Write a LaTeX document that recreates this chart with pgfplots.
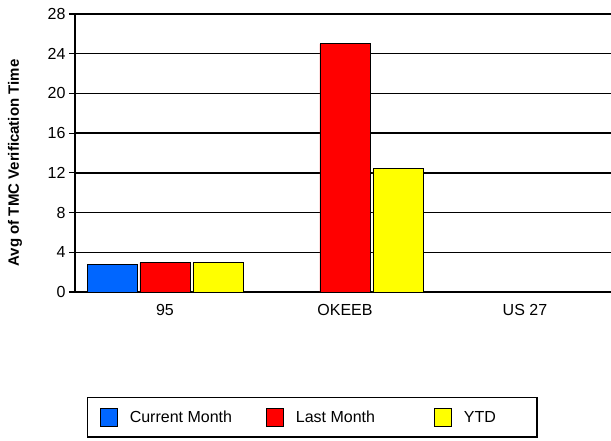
\documentclass[border=0pt]{standalone}
\usepackage{pgfplots}
\pgfplotsset{compat=1.18}
\usepackage{fontspec}
\setmainfont{Liberation Sans}
\definecolor{cmblue}{RGB}{0,102,255}
\definecolor{cmred}{RGB}{255,0,0}
\definecolor{cmyellow}{RGB}{255,255,0}
\begin{document}
\begin{tikzpicture}
\path[use as bounding box] (-75bp,-149bp) rectangle (536bp,292bp);
\begin{axis}[
  scale only axis, width=536bp, height=278bp,
  xmin=-0.5, xmax=2.478, ymin=0, ymax=28,
  ytick={0,4,...,28},
  xtick={0,1,2}, xticklabels={95,OKEEB,US 27},
  axis lines*=left,
  axis line style={line width=1.6bp, black},
  ymajorgrids, major grid style={black, line width=1.3bp},
  major x tick style={draw=none},
  major y tick style={black, line width=1.1bp},
  tick align=outside, major tick length=6bp,
  clip=false,
  /pgf/number format/assume math mode=true,
  tick label style={font=\fontsize{16bp}{19bp}\selectfont},
  xticklabel style={yshift=-3bp},
  ylabel={Avg of TMC Verification Time},
  ylabel style={font=\bfseries\fontsize{15bp}{18bp}\selectfont, at={(axis description cs:-0.112,0.464)}, anchor=center},
  legend columns=3,
  legend style={at={(axis description cs:0.0224,-0.3777)}, anchor=north west, draw=black, line width=1.4bp, font=\fontsize{16bp}{19bp}\selectfont, inner ysep=10bp, inner xsep=12bp},
  legend cell align=left,
  legend image code/.code={\draw[#1, line width=1.1bp] (0bp,-9bp) rectangle (17bp,9bp);},
]
\addplot[ybar, bar width=50bp, bar shift=-53bp, fill=cmblue, draw=black, line width=0.9bp] coordinates {(0,2.8)};
\addlegendentry{\makebox[144bp][l]{\hspace{10bp}Current Month}}
\addplot[ybar, bar width=50bp, bar shift=0bp, fill=cmred, draw=black, line width=0.9bp] coordinates {(0,2.95) (1,25)};
\addlegendentry{\makebox[146bp][l]{\hspace{10bp}Last Month}}
\addplot[ybar, bar width=50bp, bar shift=53bp, fill=cmyellow, draw=black, line width=0.9bp] coordinates {(0,2.95) (1,12.4)};
\addlegendentry{\makebox[69bp][l]{\hspace{10bp}YTD}}
\end{axis}
\end{tikzpicture}
\end{document}
